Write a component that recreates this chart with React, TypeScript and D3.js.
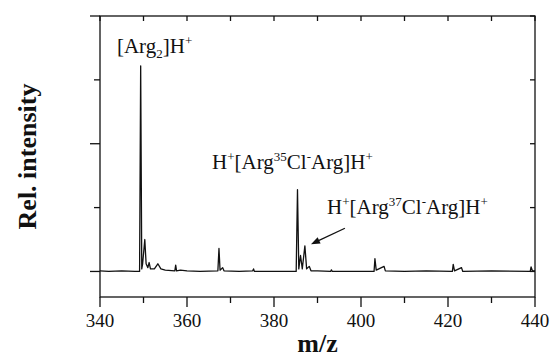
import React from "react";
import * as d3 from "d3";

// spectrum trace: m/z and relative intensity
const mzValues = [
  340, 342, 345, 348, 349.1, 349.35, 349.6, 349.8, 350.3, 350.6, 351.0, 351.3, 351.6,
  352.5, 353.3, 354.0, 355.0, 357.2, 357.4, 357.6, 358.5, 360, 363, 367.1, 367.35,
  367.6, 368.2, 368.5, 372, 375.1, 375.3, 375.5, 380, 385.1, 385.4, 385.7, 386.1,
  386.5, 387.1, 387.5, 388.1, 388.5, 390, 393.0, 393.2, 393.4, 398, 403.0, 403.2,
  403.5, 405.3, 405.6, 410, 415, 421.0, 421.2, 421.5, 423.1, 423.4, 430, 438.9,
  439.1, 439.4, 440
];
const intensityValues = [
  0.005, 0.0, 0.005, 0.0, 0.0, 1.61, 0.02, 0.06, 0.25, 0.06, 0.03, 0.07, 0.02,
  0.02, 0.06, 0.02, 0.01, 0.005, 0.05, 0.005, 0.01, 0.005, 0.0, 0.005, 0.18,
  0.01, 0.03, 0.005, 0.0, 0.005, 0.02, 0.0, 0.0, 0.0, 0.64, 0.02, 0.125,
  0.02, 0.2, 0.02, 0.04, 0.005, 0.005, 0.0, 0.012, 0.0, 0.0, 0.0, 0.1,
  0.01, 0.04, 0.005, 0.0, 0.005, 0.0, 0.055, 0.005, 0.03, 0.0, 0.005, 0.0,
  0.035, 0.005, 0.005
];

const xTickLabels = [340, 360, 380, 400, 420, 440];
const xMinorTicks = [350, 370, 390, 410, 430];
const yMajorTicks = [0, 1, 2];
const yMinorTicks = [0.5, 1.5];

// label pieces: [text, shift] where shift is 0 normal, 1 superscript, -1 subscript
const peakLabels = [
  { mz: 343.9, rel: 1.71, parts: [["[Arg", 0], ["2", -1], ["]H", 0], ["+", 1]] },
  {
    mz: 365.75,
    rel: 0.8,
    parts: [["H", 0], ["+", 1], ["[Arg", 0], ["35", 1], ["Cl", 0], ["-", 1], ["Arg]H", 0], ["+", 1]]
  },
  {
    mz: 392.2,
    rel: 0.45,
    parts: [["H", 0], ["+", 1], ["[Arg", 0], ["37", 1], ["Cl", 0], ["-", 1], ["Arg]H", 0], ["+", 1]]
  }
];

const width = 551,
  height = 360;
const margin = { left: 100, right: 16, top: 16, bottom: 63 };

const x = d3
  .scaleLinear()
  .domain([340, 440])
  .range([margin.left, width - margin.right]);
const y = d3
  .scaleLinear()
  .domain([-0.2, 2])
  .range([height - margin.bottom, margin.top]);

const serif = "'Liberation Serif', 'Times New Roman', serif";

function Label({ parts, px, py }: { parts: any[]; px: number; py: number }) {
  let cur = 0;
  return (
    <text x={px} y={py} fontSize={21} fill="#111">
      {parts.map((p, i) => {
        const target = p[1] === 1 ? -8 : p[1] === -1 ? 5 : 0;
        const dy = target - cur;
        cur = target;
        return (
          <tspan key={i} dy={dy} fontSize={p[1] === 0 ? 21 : 13}>
            {p[0]}
          </tspan>
        );
      })}
    </text>
  );
}

export default function App() {
  const pts: [number, number][] = mzValues.map((m, i) => [m, intensityValues[i]]);
  const line = d3
    .line<[number, number]>()
    .x(d => x(d[0]))
    .y(d => y(d[1]));

  const x0 = x(340),
    x1 = x(440),
    yb = y(-0.2),
    yt = y(2);

  const ax0 = x(396.3),
    ay0 = y(0.338),
    ax1 = x(388.5),
    ay1 = y(0.213);
  const ang = Math.atan2(ay1 - ay0, ax1 - ax0);
  const hl = 9,
    hw = 3.5;
  const head = [
    [ax1, ay1],
    [ax1 - hl * Math.cos(ang) + hw * Math.sin(ang), ay1 - hl * Math.sin(ang) - hw * Math.cos(ang)],
    [ax1 - hl * Math.cos(ang) - hw * Math.sin(ang), ay1 - hl * Math.sin(ang) + hw * Math.cos(ang)]
  ];

  return (
    <svg
      width={width}
      height={height}
      style={{ position: "absolute", left: 0, top: 0, background: "#fff" }}
      fontFamily={serif}
    >
      <rect x={0} y={0} width={width} height={height} fill="#fff" />
      {/* frame */}
      <rect x={x0} y={yt} width={x1 - x0} height={yb - yt} fill="none" stroke="#111" strokeWidth={1.3} />

      {/* bottom ticks */}
      {xTickLabels.map(t => (
        <g key={"xb" + t}>
          <line x1={x(t)} x2={x(t)} y1={yb} y2={yb + 10} stroke="#111" strokeWidth={1.3} />
          <text x={x(t)} y={327} textAnchor="middle" fontSize={19} fill="#111">
            {t}
          </text>
        </g>
      ))}
      {xMinorTicks.map(t => (
        <line key={"xm" + t} x1={x(t)} x2={x(t)} y1={yb} y2={yb + 6} stroke="#111" strokeWidth={1.3} />
      ))}
      {/* top ticks, inward */}
      {xTickLabels.concat(xMinorTicks).map(t => (
        <line key={"xt" + t} x1={x(t)} x2={x(t)} y1={yt} y2={yt + 5} stroke="#111" strokeWidth={1.3} />
      ))}

      {/* left ticks */}
      {yMajorTicks.map(t => (
        <line key={"yl" + t} x1={x0 - 10} x2={x0} y1={y(t)} y2={y(t)} stroke="#111" strokeWidth={1.3} />
      ))}
      {yMinorTicks.map(t => (
        <line key={"ylm" + t} x1={x0 - 6} x2={x0} y1={y(t)} y2={y(t)} stroke="#111" strokeWidth={1.3} />
      ))}
      {/* right ticks, inward */}
      {yMajorTicks.concat(yMinorTicks).map(t => (
        <line key={"yr" + t} x1={x1 - 5} x2={x1} y1={y(t)} y2={y(t)} stroke="#111" strokeWidth={1.3} />
      ))}

      {/* spectrum */}
      <path d={line(pts) || ""} fill="none" stroke="#111" strokeWidth={1.3} strokeLinejoin="round" />

      {/* annotations */}
      {peakLabels.map((l, i) => (
        <Label key={i} parts={l.parts} px={x(l.mz)} py={y(l.rel)} />
      ))}
      <line x1={ax0} y1={ay0} x2={ax1 - 6 * Math.cos(ang)} y2={ay1 - 6 * Math.sin(ang)} stroke="#111" strokeWidth={1.3} />
      <polygon points={head.map(p => p.join(",")).join(" ")} fill="#111" />

      {/* axis titles */}
      <text x={(x0 + x1) / 2} y={352} textAnchor="middle" fontSize={26} fontWeight="bold" fill="#111">
        m/z
      </text>
      <text
        transform={`translate(36,${(yt + yb) / 2}) rotate(-90)`}
        textAnchor="middle"
        fontSize={26}
        fontWeight="bold"
        fill="#111"
      >
        Rel. intensity
      </text>
    </svg>
  );
}
